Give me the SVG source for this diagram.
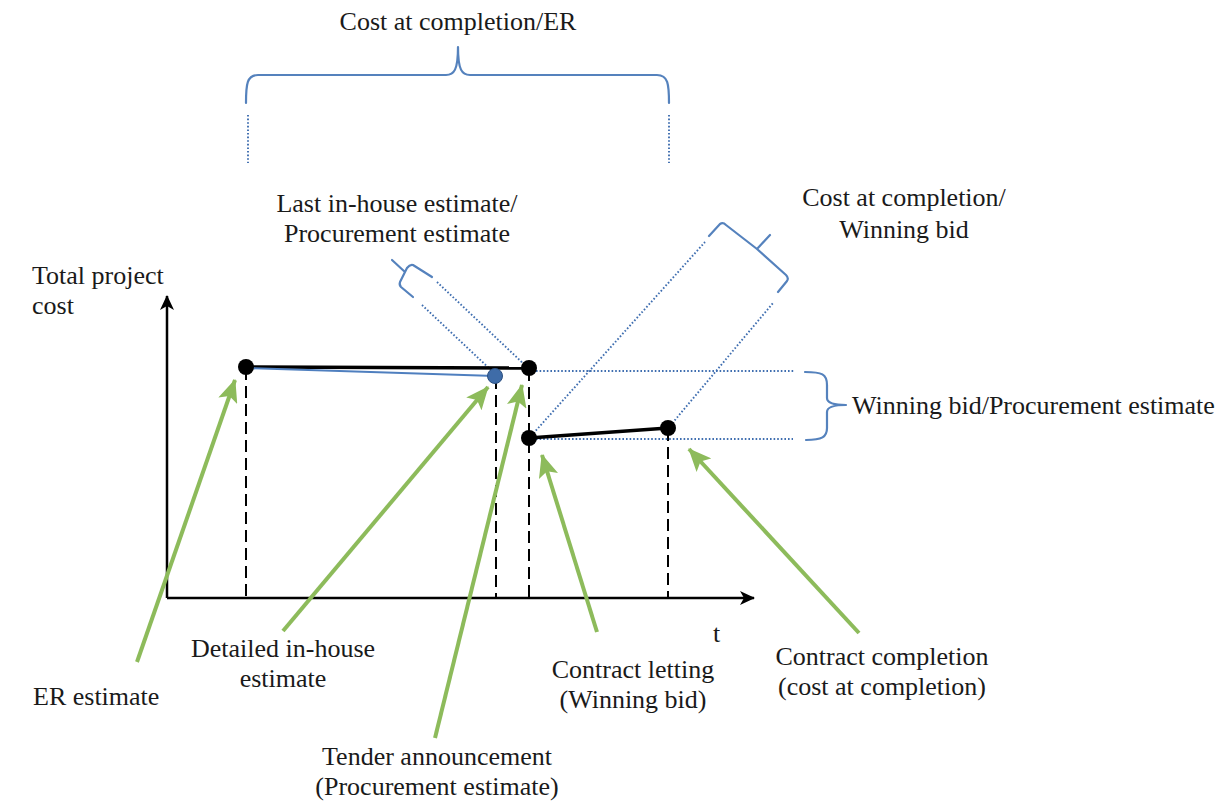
<svg xmlns="http://www.w3.org/2000/svg" width="1228" height="801" viewBox="0 0 1228 801">
  <style>
    text { font-family: "Liberation Serif", "Times New Roman", serif; font-size: 26px; fill: #1a1a1a; }
    .mid { text-anchor: middle; }
    .axis { stroke: #000; stroke-width: 2.5; fill: none; }
    .drop { stroke: #000; stroke-width: 2; stroke-dasharray: 12 6; fill: none; }
    .dots { stroke: #3f6eb0; stroke-width: 1.9; stroke-dasharray: 1.6 2; fill: none; }
    .brace { stroke: #5582bd; stroke-width: 2.2; fill: none; stroke-linecap: round; stroke-linejoin: round; }
    .cost { stroke: #000; stroke-width: 3.4; fill: none; }
    .pointer { stroke: #8dbb5b; stroke-width: 4; fill: none; }
    .dot { fill: #000; }
    .bluedot { fill: #3f6ca8; stroke: #2b4f80; stroke-width: 1; }
  </style>
  <defs>
    <marker id="axisHead" markerUnits="userSpaceOnUse" markerWidth="16" markerHeight="16" refX="14" refY="8" orient="auto">
      <path d="M0,1 L15,8 L0,15 L4,8 Z" fill="#000"/>
    </marker>
    <marker id="greenHead" markerUnits="userSpaceOnUse" markerWidth="24" markerHeight="20" refX="22" refY="10" orient="auto">
      <path d="M0,0 L23,10 L0,20 L5,10 Z" fill="#8dbb5b"/>
    </marker>
  </defs>

  <!-- axes -->
  <g id="axes">
    <path class="axis" d="M167,598 L167,296" marker-end="url(#axisHead)"/>
    <path class="axis" d="M167,598 L754,598" marker-end="url(#axisHead)"/>
    <text x="32" y="284">Total project</text>
    <text x="32" y="314">cost</text>
    <text x="713" y="642">t</text>
  </g>

  <!-- connectors: drop lines, reference lines, cost paths, pointers -->
  <g id="connectors">
    <line class="drop" x1="246" y1="368" x2="246" y2="598"/>
    <line class="drop" x1="496" y1="377" x2="496" y2="598"/>
    <line class="drop" x1="529" y1="369" x2="529" y2="598"/>
    <line class="drop" x1="668" y1="429" x2="668" y2="598"/>

    <line class="dots" x1="248" y1="115" x2="248" y2="163"/>
    <line class="dots" x1="669" y1="115" x2="669" y2="163"/>

    <line class="dots" x1="536" y1="371" x2="795" y2="371"/>
    <line class="dots" x1="536" y1="439" x2="793" y2="439"/>

    <line class="dots" x1="437" y1="282" x2="527" y2="367"/>
    <line class="dots" x1="422" y1="305" x2="492" y2="371"/>
    <line class="dots" x1="531" y1="436" x2="705" y2="242"/>
    <line class="dots" x1="670" y1="426" x2="773" y2="303"/>

    <line class="cost" x1="246" y1="367" x2="529" y2="368"/>
    <line stroke="#4f7fbf" stroke-width="2.2" x1="246" y1="368" x2="495" y2="376"/>
    <line class="cost" x1="529" y1="438" x2="668" y2="428"/>

    <line class="pointer" x1="137" y1="662" x2="235" y2="380" marker-end="url(#greenHead)"/>
    <line class="pointer" x1="283" y1="631" x2="488" y2="387" marker-end="url(#greenHead)"/>
    <line class="pointer" x1="435" y1="738" x2="522" y2="385" marker-end="url(#greenHead)"/>
    <line class="pointer" x1="597" y1="632" x2="542" y2="455" marker-end="url(#greenHead)"/>
    <line class="pointer" x1="859" y1="633" x2="689" y2="449" marker-end="url(#greenHead)"/>
  </g>

  <!-- braces -->
  <g id="brace-er">
    <path class="brace" d="M246,103 C246,84 247,75 258,75 L446,75 C454,75 458,70 458,47 C458,70 462,75 470,75 L657,75 C668,75 669,84 669,103"/>
    <text class="mid" x="458" y="30">Cost at completion/ER</text>
  </g>
  <g id="brace-inhouse">
    <path class="brace" d="M432,277 L413,265 Q410,264 407,268 L405,272 L392,260 M405,272 L400,282 Q399,285 401,287 L413,297"/>
    <text class="mid" x="397" y="212">Last in-house estimate/</text>
    <text class="mid" x="397" y="242">Procurement estimate</text>
  </g>
  <g id="brace-completion">
    <path class="brace" d="M709,236 L720,224 Q723,222 726,225 L757,249 L770,235 M757,249 L786,275 Q789,278 787,281 L778,292"/>
    <text class="mid" x="904" y="206">Cost at completion/</text>
    <text class="mid" x="904" y="238">Winning bid</text>
  </g>
  <g id="brace-bid">
    <path class="brace" d="M805,372 C822,372 827,374 827,385 L827,398 C827,403 835,405 846,405 C835,405 827,407 827,412 L827,428 C827,437 822,440 806,440"/>
    <text x="852" y="414">Winning bid/Procurement estimate</text>
  </g>

  <!-- events on the cost timeline -->
  <g id="er-estimate">
    <circle class="dot" cx="246" cy="367" r="8"/>
    <text x="33" y="705">ER estimate</text>
  </g>
  <g id="detailed-estimate">
    <circle class="bluedot" cx="495" cy="376" r="7.5"/>
    <text class="mid" x="283" y="657">Detailed in-house</text>
    <text class="mid" x="283" y="687">estimate</text>
  </g>
  <g id="tender-announcement">
    <circle class="dot" cx="529" cy="368" r="8"/>
    <text class="mid" x="437" y="765">Tender announcement</text>
    <text class="mid" x="437" y="795">(Procurement estimate)</text>
  </g>
  <g id="contract-letting">
    <circle class="dot" cx="529" cy="438" r="8"/>
    <text class="mid" x="633" y="678">Contract letting</text>
    <text class="mid" x="633" y="708">(Winning bid)</text>
  </g>
  <g id="contract-completion">
    <circle class="dot" cx="668" cy="428" r="8"/>
    <text class="mid" x="882" y="665">Contract completion</text>
    <text class="mid" x="882" y="695">(cost at completion)</text>
  </g>
</svg>
